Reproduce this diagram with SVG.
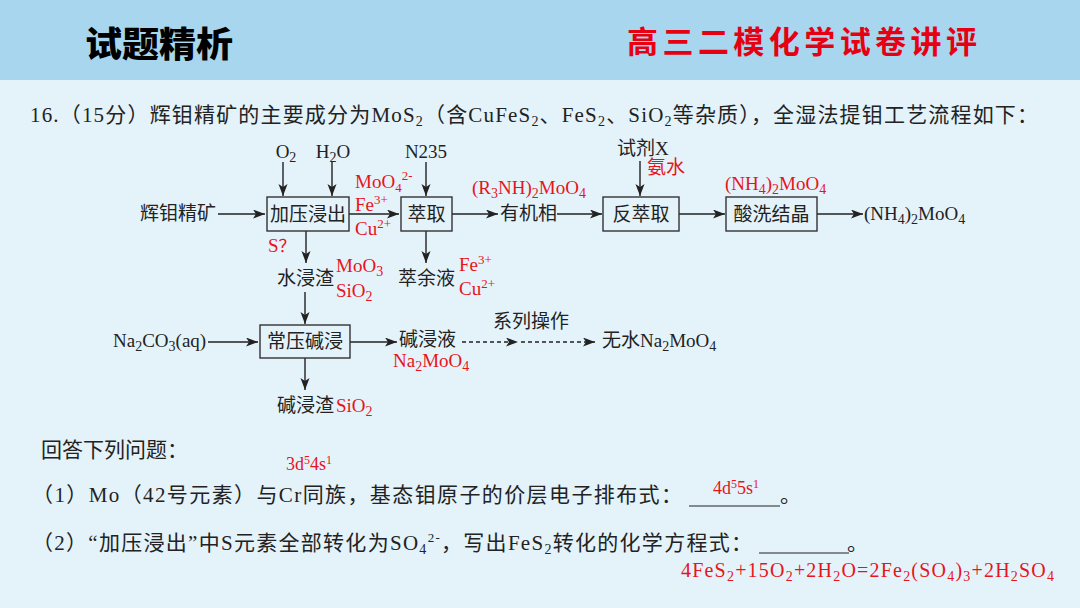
<svg xmlns="http://www.w3.org/2000/svg" width="1080" height="608" viewBox="0 0 1080 608">
<defs>
<marker id="ah" markerUnits="userSpaceOnUse" markerWidth="13" markerHeight="10" refX="12" refY="4.5" orient="auto">
<path d="M0,0 L12,4.5 L0,9 L3,4.5 z" fill="#222"/>
</marker>
<style>
.t{font-family:"Liberation Serif","Noto Sans CJK SC",serif;fill:#222;}
.q{font-size:21px;}
.f{font-size:19px;}
.r{fill:#e8141b;}
.box{fill:none;stroke:#333;stroke-width:1.4;}
.ln{fill:none;stroke:#222;stroke-width:1.4;marker-end:url(#ah);}
.dl{fill:none;stroke:#222;stroke-width:1.4;stroke-dasharray:4,3;marker-end:url(#ah);}
.ul{stroke:#222;stroke-width:1.2;}
</style>
</defs>
<rect x="0" y="0" width="1080" height="608" fill="#e4f2fa"/>
<rect x="0" y="0" width="1080" height="80" fill="#a7d6ee"/>
<g id="header">
<text x="85" y="57" font-family="'Noto Sans CJK SC',sans-serif" font-size="35" font-weight="900" fill="#000" textLength="148" lengthAdjust="spacingAndGlyphs">试题精析</text>
<text x="627" y="53" font-family="'Noto Sans CJK SC',sans-serif" font-size="31" font-weight="bold" fill="#e60012" textLength="350" lengthAdjust="spacing">高三二模化学试卷讲评</text>
</g>
<g id="question">
<text class="t q" x="30" y="122" textLength="1008" lengthAdjust="spacing">16.（15分）辉钼精矿的主要成分为MoS<tspan dy="4" font-size="14">2</tspan><tspan dy="-4">（含CuFeS</tspan><tspan dy="4" font-size="14">2</tspan><tspan dy="-4">、FeS</tspan><tspan dy="4" font-size="14">2</tspan><tspan dy="-4">、SiO</tspan><tspan dy="4" font-size="14">2</tspan><tspan dy="-4">等杂质），全湿法提钼工艺流程如下：</tspan></text>
</g>
<g id="connectors">
<line class="ln" x1="218" y1="214" x2="265" y2="214"/>
<line class="ln" x1="283" y1="162" x2="283" y2="196"/>
<line class="ln" x1="332" y1="162" x2="332" y2="196"/>
<line class="ln" x1="349" y1="214" x2="399" y2="214"/>
<line class="ln" x1="426" y1="162" x2="426" y2="196"/>
<line class="ln" x1="452" y1="214" x2="498" y2="214"/>
<line class="ln" x1="557" y1="214" x2="602" y2="214"/>
<line class="ln" x1="640" y1="161" x2="640" y2="196"/>
<line class="ln" x1="679" y1="214" x2="725" y2="214"/>
<line class="ln" x1="817" y1="214" x2="863" y2="214"/>
<line class="ln" x1="306" y1="231" x2="306" y2="263"/>
<line class="ln" x1="426" y1="231" x2="426" y2="263"/>
<line class="ln" x1="305" y1="292" x2="305" y2="324"/>
<line class="ln" x1="208" y1="342" x2="258" y2="342"/>
<line class="ln" x1="350" y1="342" x2="397" y2="342"/>
<line class="ln" x1="305" y1="358" x2="305" y2="390"/>
<line class="dl" x1="462" y1="342" x2="518" y2="342"/>
<line class="dl" x1="521" y1="342" x2="595" y2="342"/>
</g>
<g id="n-ore"><text class="t f" x="140" y="220">辉钼精矿</text></g>
<g id="n-o2"><text class="t f" x="286" y="158" text-anchor="middle">O<tspan dy="4" font-size="14">2</tspan></text></g>
<g id="n-h2o"><text class="t f" x="333" y="158" text-anchor="middle">H<tspan dy="4" font-size="14">2</tspan><tspan dy="-4">O</tspan></text></g>
<g id="n-leach">
<rect class="box" x="267" y="197" width="82" height="34"/>
<text class="t f" x="308" y="221" text-anchor="middle">加压浸出</text>
</g>
<g id="n-red1">
<text class="t f r" x="355" y="188">MoO<tspan dy="4" font-size="13">4</tspan><tspan dy="-12" font-size="13">2-</tspan></text>
<text class="t f r" x="355" y="211">Fe<tspan dy="-7" font-size="13">3+</tspan></text>
<text class="t f r" x="355" y="235">Cu<tspan dy="-7" font-size="13">2+</tspan></text>
<text class="t f r" x="268" y="252">S<tspan font-family="'Noto Sans CJK SC',sans-serif" font-size="17">？</tspan></text>
</g>
<g id="n-n235"><text class="t f" x="426" y="158" text-anchor="middle">N235</text></g>
<g id="n-extract">
<rect class="box" x="401" y="197" width="51" height="34"/>
<text class="t f" x="426.5" y="221" text-anchor="middle">萃取</text>
</g>
<g id="n-organic">
<text class="t f r" x="472" y="194">(R<tspan dy="4" font-size="14">3</tspan><tspan dy="-4">NH)</tspan><tspan dy="4" font-size="14">2</tspan><tspan dy="-4">MoO</tspan><tspan dy="4" font-size="14">4</tspan></text>
<text class="t f" x="500" y="220">有机相</text>
</g>
<g id="n-reagent">
<text class="t f" x="617" y="155">试剂X</text>
<text class="t f r" x="647" y="174">氨水</text>
</g>
<g id="n-back">
<rect class="box" x="603" y="197" width="76" height="34"/>
<text class="t f" x="641" y="221" text-anchor="middle">反萃取</text>
</g>
<g id="n-cryst">
<text class="t f r" x="725" y="190">(NH<tspan dy="4" font-size="14">4</tspan><tspan dy="-4">)</tspan><tspan dy="4" font-size="14">2</tspan><tspan dy="-4">MoO</tspan><tspan dy="4" font-size="14">4</tspan></text>
<rect class="box" x="726" y="197" width="91" height="34"/>
<text class="t f" x="771.5" y="221" text-anchor="middle">酸洗结晶</text>
</g>
<g id="n-product"><text class="t f" x="864" y="220">(NH<tspan dy="4" font-size="14">4</tspan><tspan dy="-4">)</tspan><tspan dy="4" font-size="14">2</tspan><tspan dy="-4">MoO</tspan><tspan dy="4" font-size="14">4</tspan></text></g>
<g id="n-residue1">
<text class="t f" x="277" y="285">水浸渣</text>
<text class="t f r" x="336" y="272">MoO<tspan dy="4" font-size="14">3</tspan></text>
<text class="t f r" x="336" y="297">SiO<tspan dy="4" font-size="14">2</tspan></text>
</g>
<g id="n-raffinate">
<text class="t f" x="398" y="285">萃余液</text>
<text class="t f r" x="459" y="271">Fe<tspan dy="-7" font-size="13">3+</tspan></text>
<text class="t f r" x="459" y="295">Cu<tspan dy="-7" font-size="13">2+</tspan></text>
</g>
<g id="n-na2co3"><text class="t f" x="113" y="347">Na<tspan dy="4" font-size="14">2</tspan><tspan dy="-4">CO</tspan><tspan dy="4" font-size="14">3</tspan><tspan dy="-4">(aq)</tspan></text></g>
<g id="n-alkali">
<rect class="box" x="260" y="325" width="90" height="33"/>
<text class="t f" x="305" y="348" text-anchor="middle">常压碱浸</text>
</g>
<g id="n-liquor">
<text class="t f" x="399" y="346">碱浸液</text>
<text class="t f r" x="393" y="367">Na<tspan dy="4" font-size="14">2</tspan><tspan dy="-4">MoO</tspan><tspan dy="4" font-size="14">4</tspan></text>
</g>
<g id="n-ops"><text class="t f" x="493" y="328">系列操作</text></g>
<g id="n-anhyd"><text class="t f" x="602" y="347">无水Na<tspan dy="4" font-size="14">2</tspan><tspan dy="-4">MoO</tspan><tspan dy="4" font-size="14">4</tspan></text></g>
<g id="n-residue2">
<text class="t f" x="277" y="412">碱浸渣</text>
<text class="t f r" x="336" y="412">SiO<tspan dy="4" font-size="14">2</tspan></text>
</g>
<g id="questions">
<text class="t q" x="41" y="457">回答下列问题：</text>
<text class="t r" x="286" y="470" font-size="18">3d<tspan dy="-6" font-size="12">5</tspan><tspan dy="6">4s</tspan><tspan dy="-6" font-size="12">1</tspan></text>
<text class="t q" x="32" y="502" textLength="650" lengthAdjust="spacing">（1）Mo（42号元素）与Cr同族，基态钼原子的价层电子排布式：</text>
<line class="ul" x1="689" y1="506" x2="780" y2="506"/>
<text class="t r" x="713" y="494" font-size="18">4d<tspan dy="-6" font-size="12">5</tspan><tspan dy="6">5s</tspan><tspan dy="-6" font-size="12">1</tspan></text>
<text class="t q" x="780" y="502">。</text>
<text class="t q" x="32" y="550" textLength="720" lengthAdjust="spacing">（2）“加压浸出”中S元素全部转化为SO<tspan dy="4" font-size="14">4</tspan><tspan dy="-12" font-size="13">2-</tspan><tspan dy="8">，写出FeS</tspan><tspan dy="4" font-size="14">2</tspan><tspan dy="-4">转化的化学方程式：</tspan></text>
<line class="ul" x1="759" y1="553" x2="849" y2="553"/>
<text class="t q" x="847" y="550">。</text>
<text class="t r" x="681" y="577" font-size="20" textLength="373" lengthAdjust="spacing">4FeS<tspan dy="4" font-size="14">2</tspan><tspan dy="-4">+15O</tspan><tspan dy="4" font-size="14">2</tspan><tspan dy="-4">+2H</tspan><tspan dy="4" font-size="14">2</tspan><tspan dy="-4">O=2Fe</tspan><tspan dy="4" font-size="14">2</tspan><tspan dy="-4">(SO</tspan><tspan dy="4" font-size="14">4</tspan><tspan dy="-4">)</tspan><tspan dy="4" font-size="14">3</tspan><tspan dy="-4">+2H</tspan><tspan dy="4" font-size="14">2</tspan><tspan dy="-4">SO</tspan><tspan dy="4" font-size="14">4</tspan></text>
</g>
</svg>
